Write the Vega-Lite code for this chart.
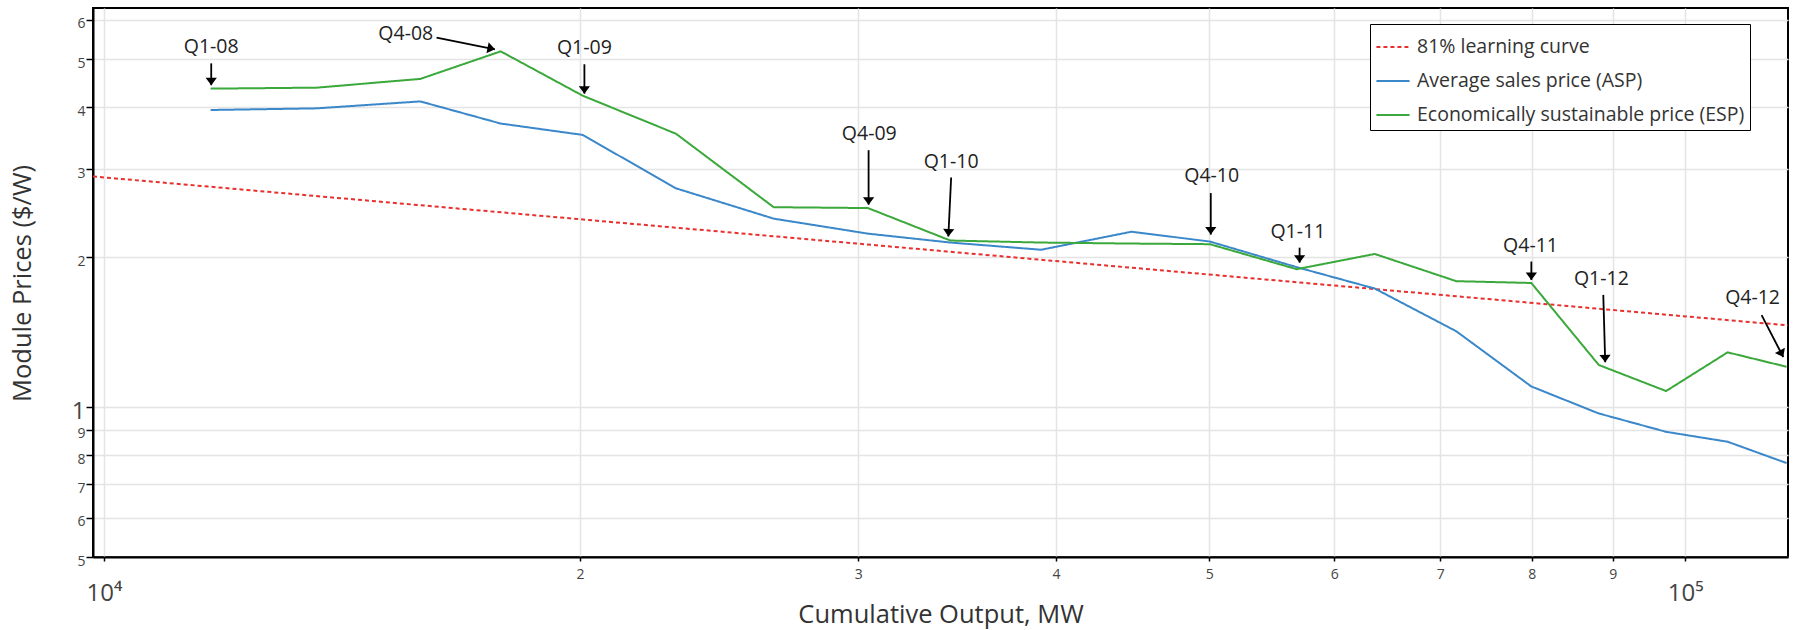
{
  "$schema": "https://vega.github.io/schema/vega-lite/v6.json",
  "width": 1695,
  "height": 549,
  "autosize": {"type": "none"},
  "padding": {"left": 93, "top": 8, "right": 5, "bottom": 73},
  "background": "white",
  "config": {
    "font": "Open Sans",
    "view": {"stroke": "black", "strokeWidth": 2},
    "axis": {
      "gridColor": "#e4e4e4",
      "gridWidth": 1.5,
      "domainColor": "black",
      "domainWidth": 2,
      "tickColor": "black",
      "tickWidth": 1.5,
      "labelColor": "#444",
      "labelFont": "Open Sans",
      "labelFlush": false,
      "labelOverlap": false,
      "titleFont": "Open Sans",
      "titleFontSize": 25.5,
      "titleFontWeight": "normal",
      "titleColor": "#333"
    }
  },
  "datasets": {
    "lines": [
      {"series": "81% learning curve", "output": 9841, "price": 2.905},
      {"series": "81% learning curve", "output": 116170, "price": 1.459},
      {"series": "Average sales price (ASP)", "output": 11680, "price": 3.95},
      {"series": "Average sales price (ASP)", "output": 13630, "price": 3.98},
      {"series": "Average sales price (ASP)", "output": 15850, "price": 4.11},
      {"series": "Average sales price (ASP)", "output": 17820, "price": 3.71},
      {"series": "Average sales price (ASP)", "output": 20080, "price": 3.52},
      {"series": "Average sales price (ASP)", "output": 23000, "price": 2.75},
      {"series": "Average sales price (ASP)", "output": 26520, "price": 2.39},
      {"series": "Average sales price (ASP)", "output": 30420, "price": 2.23},
      {"series": "Average sales price (ASP)", "output": 34300, "price": 2.14},
      {"series": "Average sales price (ASP)", "output": 39150, "price": 2.07},
      {"series": "Average sales price (ASP)", "output": 44660, "price": 2.25},
      {"series": "Average sales price (ASP)", "output": 50050, "price": 2.15},
      {"series": "Average sales price (ASP)", "output": 56800, "price": 1.91},
      {"series": "Average sales price (ASP)", "output": 63640, "price": 1.73},
      {"series": "Average sales price (ASP)", "output": 71660, "price": 1.42},
      {"series": "Average sales price (ASP)", "output": 79940, "price": 1.10},
      {"series": "Average sales price (ASP)", "output": 88190, "price": 0.971},
      {"series": "Average sales price (ASP)", "output": 97270, "price": 0.892},
      {"series": "Average sales price (ASP)", "output": 106390, "price": 0.852},
      {"series": "Average sales price (ASP)", "output": 115930, "price": 0.772},
      {"series": "Economically sustainable price (ESP)", "output": 11680, "price": 4.36},
      {"series": "Economically sustainable price (ESP)", "output": 13630, "price": 4.38},
      {"series": "Economically sustainable price (ESP)", "output": 15850, "price": 4.56},
      {"series": "Economically sustainable price (ESP)", "output": 17820, "price": 5.18},
      {"series": "Economically sustainable price (ESP)", "output": 20080, "price": 4.22},
      {"series": "Economically sustainable price (ESP)", "output": 23000, "price": 3.54},
      {"series": "Economically sustainable price (ESP)", "output": 26520, "price": 2.52},
      {"series": "Economically sustainable price (ESP)", "output": 30420, "price": 2.51},
      {"series": "Economically sustainable price (ESP)", "output": 34300, "price": 2.16},
      {"series": "Economically sustainable price (ESP)", "output": 39150, "price": 2.14},
      {"series": "Economically sustainable price (ESP)", "output": 44660, "price": 2.13},
      {"series": "Economically sustainable price (ESP)", "output": 50050, "price": 2.124},
      {"series": "Economically sustainable price (ESP)", "output": 56800, "price": 1.892},
      {"series": "Economically sustainable price (ESP)", "output": 63640, "price": 2.03},
      {"series": "Economically sustainable price (ESP)", "output": 71660, "price": 1.79},
      {"series": "Economically sustainable price (ESP)", "output": 79940, "price": 1.775},
      {"series": "Economically sustainable price (ESP)", "output": 88190, "price": 1.215},
      {"series": "Economically sustainable price (ESP)", "output": 97270, "price": 1.077},
      {"series": "Economically sustainable price (ESP)", "output": 106390, "price": 1.288},
      {"series": "Economically sustainable price (ESP)", "output": 115930, "price": 1.205}
    ],
    "notes": [
      {"label": "Q1-08", "tx": 11690, "ty": 5.28, "ax": 11690, "ay": 4.90, "bx": 11690, "by": 4.43},
      {"label": "Q4-08", "tx": 15520, "ty": 5.62, "ax": 16230, "ay": 5.52, "bx": 17670, "by": 5.23},
      {"label": "Q1-09", "tx": 20130, "ty": 5.27, "ax": 20130, "ay": 4.88, "bx": 20130, "by": 4.26},
      {"label": "Q4-09", "tx": 30480, "ty": 3.53, "ax": 30450, "ay": 3.28, "bx": 30450, "by": 2.55},
      {"label": "Q1-10", "tx": 34340, "ty": 3.11, "ax": 34340, "ay": 2.89, "bx": 34200, "by": 2.20},
      {"label": "Q4-10", "tx": 50190, "ty": 2.91, "ax": 50120, "ay": 2.69, "bx": 50120, "by": 2.22},
      {"label": "Q1-11", "tx": 56900, "ty": 2.25, "ax": 57040, "ay": 2.09, "bx": 57040, "by": 1.95},
      {"label": "Q4-11", "tx": 79850, "ty": 2.11, "ax": 79940, "ay": 1.96, "bx": 79940, "by": 1.80},
      {"label": "Q1-12", "tx": 88520, "ty": 1.81, "ax": 88770, "ay": 1.68, "bx": 89020, "by": 1.23},
      {"label": "Q4-12", "tx": 110330, "ty": 1.655, "ax": 111790, "ay": 1.53, "bx": 115380, "by": 1.26}
    ]
  },
  "layer": [
    {
      "data": {"name": "lines"},
      "mark": {"type": "line", "strokeWidth": 2},
      "encoding": {
        "x": {
          "field": "output", "type": "quantitative",
          "title": "Cumulative Output, MW",
          "scale": {"type": "log", "domain": [9841, 116170], "nice": false},
          "axis": {
            "values": [10000, 20000, 30000, 40000, 50000, 60000, 70000, 80000, 90000, 100000],
            "labelExpr": "datum.value == 10000 ? '10⁴' : (datum.value == 100000 ? '10⁵' : format(datum.value / 10000, '.0f'))",
            "labelFontSize": {"condition": {"test": "datum.value == 10000 || datum.value == 100000", "value": 24}, "value": 14},
            "labelPadding": {"condition": {"test": "datum.value == 10000 || datum.value == 100000", "value": 20}, "value": 6},
            "tickSize": 4,
            "titleX": 847.5,
            "titleY": 65,
            "titleBaseline": "alphabetic",
            "titleAlign": "center"
          }
        },
        "y": {
          "field": "price", "type": "quantitative",
          "title": "Module Prices ($/W)",
          "scale": {"type": "log", "domain": [0.5, 6.33], "nice": false},
          "axis": {
            "values": [0.5, 0.6, 0.7, 0.8, 0.9, 1, 2, 3, 4, 5, 6],
            "labelExpr": "datum.value < 0.95 ? format(datum.value * 10, '.0f') : format(datum.value, '.0f')",
            "labelFontSize": {"condition": {"test": "datum.value == 1", "value": 24}, "value": 14},
            "labelPadding": 1,
            "labelOffset": 4,
            "tickSize": 7,
            "titleX": -63,
            "titleY": 275,
            "titleAngle": -90,
            "titleBaseline": "alphabetic",
            "titleAlign": "center"
          }
        },
        "color": {
          "field": "series", "type": "nominal",
          "scale": {
            "domain": ["81% learning curve", "Average sales price (ASP)", "Economically sustainable price (ESP)"],
            "range": ["#e8302e", "#3a87c9", "#3aa83a"]
          },
          "legend": {
            "title": null, "orient": "none", "legendX": 1277, "legendY": 16,
            "symbolType": "stroke", "symbolSize": 1100, "symbolStrokeWidth": 2,
            "labelFontSize": 19.5, "labelColor": "#333", "labelFont": "Open Sans",
            "labelOffset": 6, "rowPadding": 6, "padding": 5, "labelLimit": 600,
            "strokeColor": "black", "fillColor": "white"
          }
        },
        "strokeDash": {
          "field": "series", "type": "nominal",
          "scale": {
            "domain": ["81% learning curve", "Average sales price (ASP)", "Economically sustainable price (ESP)"],
            "range": [[4, 3], [1, 0], [1, 0]]
          },
          "legend": {
            "title": null, "orient": "none", "legendX": 1277, "legendY": 16,
            "symbolType": "stroke", "symbolSize": 1100, "symbolStrokeWidth": 2,
            "labelFontSize": 19.5, "labelColor": "#333", "labelFont": "Open Sans",
            "labelOffset": 6, "rowPadding": 6, "padding": 5, "labelLimit": 600,
            "strokeColor": "black", "fillColor": "white"
          }
        }
      }
    },
    {
      "data": {"name": "notes"},
      "mark": {"type": "rule", "strokeWidth": 1.8, "color": "black"},
      "encoding": {
        "x": {"field": "ax", "type": "quantitative", "title": "Cumulative Output, MW"},
        "y": {"field": "ay", "type": "quantitative", "title": "Module Prices ($/W)"},
        "x2": {"field": "bx"},
        "y2": {"field": "by"}
      }
    },
    {
      "data": {"name": "notes"},
      "mark": {"type": "point", "shape": "M0,0L-0.75,-1L0.75,-1Z", "filled": true, "color": "black", "opacity": 1, "size": 225},
      "encoding": {
        "x": {"field": "bx", "type": "quantitative", "title": "Cumulative Output, MW"},
        "y": {"field": "by", "type": "quantitative", "title": "Module Prices ($/W)"},
        "angle": {
          "condition": [
            {"test": "datum.label == 'Q4-08'", "value": -78.7},
            {"test": "datum.label == 'Q1-10'", "value": 2.7},
            {"test": "datum.label == 'Q1-12'", "value": -1.6},
            {"test": "datum.label == 'Q4-12'", "value": -27.4}
          ],
          "value": 0
        }
      }
    },
    {
      "data": {"name": "notes"},
      "mark": {"type": "text", "fontSize": 19.5, "color": "#222", "baseline": "middle", "align": "center", "font": "Open Sans"},
      "encoding": {
        "x": {"field": "tx", "type": "quantitative", "title": "Cumulative Output, MW"},
        "y": {"field": "ty", "type": "quantitative", "title": "Module Prices ($/W)"},
        "text": {"field": "label", "type": "nominal"}
      }
    }
  ]
}
